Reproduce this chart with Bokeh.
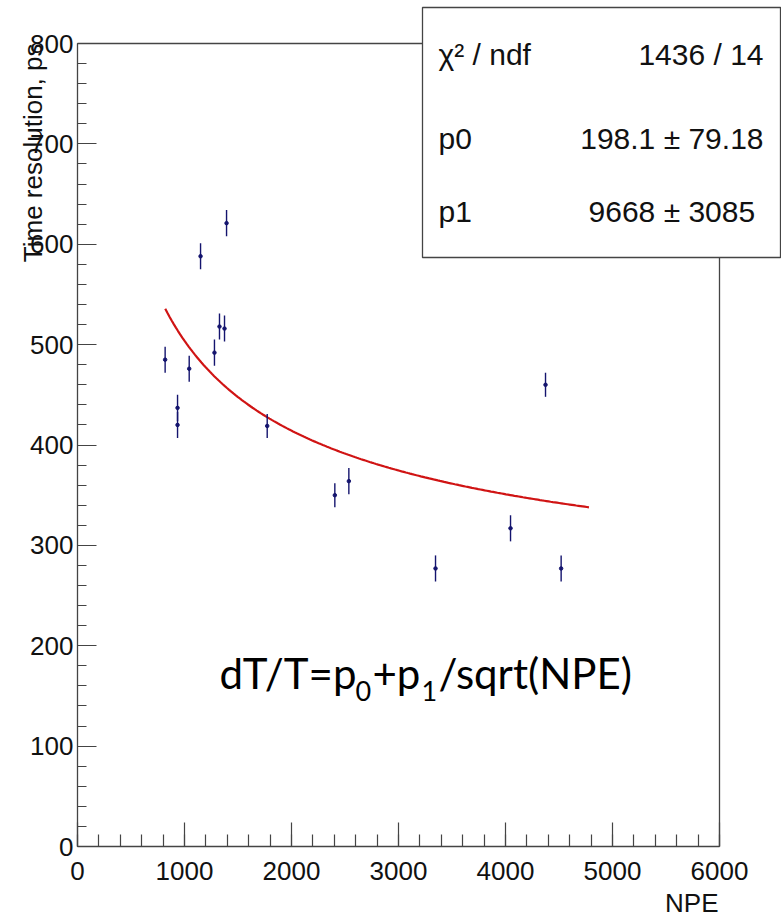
import numpy as np
from bokeh.plotting import figure
from bokeh.models import Range1d, SingleIntervalTicker
from bokeh.core.properties import value
from bokeh.embed import file_html
from bokeh.resources import INLINE

# Measured points: number of photoelectrons vs. time resolution (ps)
npe = [819, 935, 935, 1044, 1150, 1280, 1327, 1374, 1393, 1773,
       2405, 2536, 3346, 4047, 4374, 4520]
time_res = [485, 437, 420, 476, 588, 492, 518, 516, 621, 419,
            350, 364, 277, 317, 460, 277]
time_err = [13, 13, 13, 13, 13, 13, 13, 13, 13, 12,
            12, 13, 13, 13, 12, 13]

# Fit dT/T = p0 + p1/sqrt(NPE)
p0, p0_err = 198.1, 79.18
p1, p1_err = 9668, 3085
chi2, ndf = 1436, 14
fit_range = (820, 4780)

x_axis_range = (0, 6000)
y_axis_range = (0, 800)

# Pixel geometry on the canvas
W, H = 781, 916
FL, FR, FT, FB = 77, 719, 43, 846      # axis frame
BOX_L, BOX_R, BOX_T, BOX_B = 422, 780, 7, 257  # stats box

sx = (x_axis_range[1] - x_axis_range[0]) / (FR - FL)
sy = (y_axis_range[1] - y_axis_range[0]) / (FB - FT)


def dx(px):
    return x_axis_range[0] + (px - FL) * sx


def dy(py):
    return y_axis_range[0] + (FB - py) * sy


AX = "#444444"
TXT = "#111111"
FONT = "Liberation Sans"

# The plotting area covers the whole canvas; the axes sit at fixed data
# locations so that titles and the stats box can be placed freely.
p = figure(
    width=W, height=H,
    min_border=0, min_border_left=0, min_border_right=0,
    min_border_top=0, min_border_bottom=0,
    x_range=Range1d(dx(0), dx(W)),
    y_range=Range1d(dy(H), dy(0)),
    output_backend="svg", toolbar_location=None,
    background_fill_color="white", border_fill_color="white",
)
p.outline_line_color = None
p.xgrid.visible = False
p.ygrid.visible = False

for ax, tick_len in ((p.xaxis[0], 24), (p.yaxis[0], 19)):
    ax.axis_line_color = AX
    ax.axis_line_width = 1.3
    ax.major_tick_line_color = AX
    ax.minor_tick_line_color = AX
    ax.major_tick_line_width = 1.2
    ax.minor_tick_line_width = 1.2
    ax.major_tick_in = tick_len
    ax.major_tick_out = 0
    ax.minor_tick_in = tick_len // 2
    ax.minor_tick_out = 0
    ax.major_label_text_font = FONT
    ax.major_label_text_font_size = "26px"
    ax.major_label_text_color = TXT

p.xaxis.ticker = SingleIntervalTicker(interval=1000, num_minor_ticks=5)
p.yaxis.ticker = SingleIntervalTicker(interval=100, num_minor_ticks=5)
p.xaxis.bounds = x_axis_range
p.yaxis.bounds = y_axis_range
p.xaxis.fixed_location = y_axis_range[0]
p.yaxis.fixed_location = x_axis_range[0]
p.xaxis.major_label_standoff = 15
p.yaxis.major_label_standoff = 4

# top and right edges of the frame
p.line([x_axis_range[0], x_axis_range[1]], [y_axis_range[1]] * 2,
       line_color=AX, line_width=1.3)
p.line([x_axis_range[1]] * 2, [y_axis_range[0], y_axis_range[1]],
       line_color=AX, line_width=1.3)

# fit curve
xf = np.linspace(fit_range[0], fit_range[1], 200)
p.line(xf, p0 + p1 / np.sqrt(xf), line_color="#d01414", line_width=2.2)

# data with error bars
lo = [v - e for v, e in zip(time_res, time_err)]
hi = [v + e for v, e in zip(time_res, time_err)]
NAVY = "#14146e"
p.segment(npe, lo, npe, hi, line_color=NAVY, line_width=1.4)
p.scatter(npe, time_res, size=3.5, marker="circle",
          fill_color=NAVY, line_color=NAVY)

# statistics box
p.quad(left=dx(BOX_L), right=dx(BOX_R), top=dy(BOX_T), bottom=dy(BOX_B),
       fill_color="white", line_color=AX, line_width=1.3)

rows_y = [dy(54), dy(137.5), dy(211)]
p.text(x=[dx(438)] * 3, y=rows_y,
       text=["χ² / ndf", "p0", "p1"],
       text_font=value(FONT), text_font_size="30px",
       text_align="left", text_baseline="middle", text_color=TXT)
p.text(x=[dx(763)] * 3, y=rows_y,
       text=[f"{chi2} / {ndf}", f"{p0} ± {p0_err}", f"{p1} ±  {p1_err}"],
       text_font=value(FONT), text_font_size="30px",
       text_align="right", text_baseline="middle", text_color=TXT)

# fit formula, with subscripted parameter indices
main_parts = ["dT/T=p", "+p", "/sqrt(NPE)"]
main_px = [219, 372, 438]
sub_parts = ["0", "1"]
sub_px = [355, 421]
p.text(x=[dx(v) for v in main_px], y=[dy(672)] * 3, text=main_parts,
       text_font=value("Lato"), text_font_size="42px",
       text_align="left", text_baseline="middle", text_color="black")
p.text(x=[dx(v) for v in sub_px], y=[dy(690)] * 2, text=sub_parts,
       text_font=value("Lato"), text_font_size="27px",
       text_align="left", text_baseline="middle", text_color="black")

# axis titles, right-aligned at the axis ends
p.text(x=[dx(32)], y=[y_axis_range[1]], text=["Time resolution, ps"],
       angle=np.pi / 2, text_font=value(FONT), text_font_size="26px",
       text_align="right", text_baseline="middle", text_color=TXT)
p.text(x=[dx(718)], y=[dy(902)], text=["NPE"],
       text_font=value(FONT), text_font_size="26px",
       text_align="right", text_baseline="middle", text_color=TXT)

open("out.html", "w").write(file_html(p, INLINE))
